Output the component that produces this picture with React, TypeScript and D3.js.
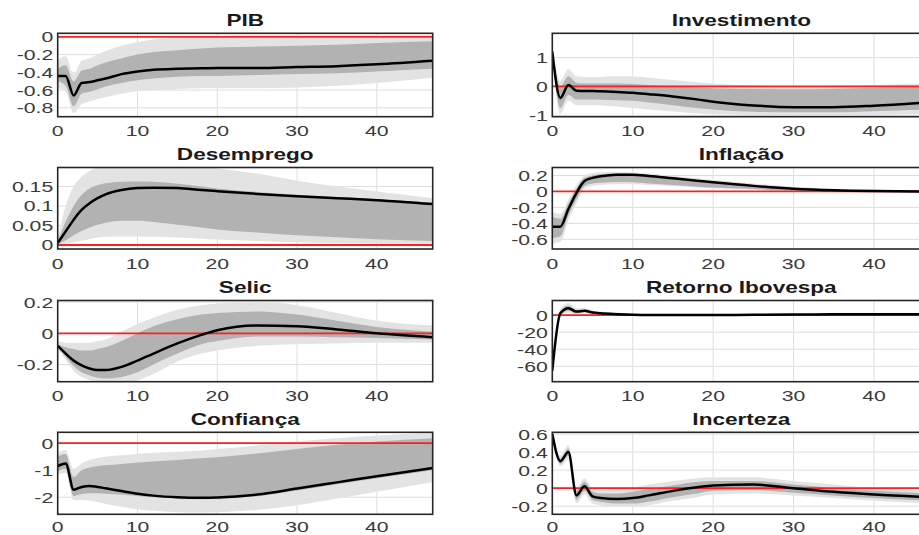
import React from "react";
import * as d3 from "d3";

const HORIZON = [0, 1, 2, 3, 4, 5, 6, 8, 10, 12, 15, 18, 20, 25, 30, 35, 40, 47];
const X_TICKS = [0, 10, 20, 30, 40];
const X_DOMAIN = [0, 47];

const TITLES = ["PIB", "Investimento", "Desemprego", "Inflação", "Selic", "Retorno Ibovespa", "Confiança", "Incerteza"];

// PIB
const pibMed = [-0.44, -0.44, -0.66, -0.52, -0.51, -0.49, -0.47, -0.42, -0.39, -0.37, -0.36, -0.355, -0.35, -0.35, -0.34, -0.33, -0.31, -0.27];
const pibHi68 = [-0.36, -0.32, -0.5, -0.38, -0.36, -0.32, -0.29, -0.24, -0.2, -0.17, -0.15, -0.13, -0.12, -0.11, -0.1, -0.09, -0.07, -0.05];
const pibLo68 = [-0.5, -0.55, -0.78, -0.64, -0.62, -0.59, -0.56, -0.52, -0.49, -0.47, -0.45, -0.44, -0.44, -0.43, -0.42, -0.41, -0.39, -0.36];
const pibHi90 = [-0.26, -0.22, -0.42, -0.27, -0.24, -0.2, -0.16, -0.1, -0.06, -0.03, -0.01, 0.0, 0.01, 0.02, 0.02, 0.02, 0.02, 0.02];
const pibLo90 = [-0.58, -0.62, -0.86, -0.76, -0.73, -0.7, -0.68, -0.64, -0.61, -0.6, -0.59, -0.58, -0.58, -0.58, -0.57, -0.55, -0.52, -0.46];

// Investimento
const invMed = [1.2, -0.4, 0.05, -0.15, -0.16, -0.16, -0.17, -0.19, -0.22, -0.27, -0.35, -0.45, -0.53, -0.66, -0.72, -0.72, -0.67, -0.55];
const invHi68 = [1.25, 0.0, 0.35, 0.12, 0.1, 0.1, 0.1, 0.1, 0.08, 0.05, 0.0, -0.04, -0.06, -0.09, -0.1, -0.08, -0.05, 0.0];
const invLo68 = [1.15, -0.75, -0.3, -0.45, -0.45, -0.45, -0.46, -0.48, -0.5, -0.56, -0.65, -0.75, -0.8, -0.88, -0.9, -0.9, -0.86, -0.8];
const invHi90 = [1.3, 0.2, 0.6, 0.35, 0.33, 0.33, 0.33, 0.35, 0.35, 0.3, 0.22, 0.14, 0.1, 0.03, 0.0, 0.02, 0.05, 0.1];
const invLo90 = [1.1, -0.95, -0.5, -0.65, -0.65, -0.65, -0.66, -0.7, -0.75, -0.8, -0.87, -0.93, -0.96, -1.0, -1.02, -1.02, -1.0, -0.95];

// Desemprego
const desMed = [0.005, 0.035, 0.065, 0.09, 0.107, 0.12, 0.13, 0.141, 0.146, 0.147, 0.146, 0.141, 0.138, 0.131, 0.125, 0.12, 0.115, 0.105];
const desHi68 = [0.01, 0.06, 0.1, 0.128, 0.145, 0.153, 0.158, 0.162, 0.163, 0.162, 0.157, 0.15, 0.145, 0.136, 0.129, 0.123, 0.118, 0.108];
const desLo68 = [0.002, 0.012, 0.025, 0.036, 0.045, 0.052, 0.057, 0.062, 0.062, 0.059, 0.052, 0.045, 0.04, 0.032, 0.025, 0.02, 0.015, 0.01];
const desHi90 = [0.015, 0.1, 0.15, 0.175, 0.19, 0.2, 0.205, 0.21, 0.21, 0.21, 0.205, 0.2, 0.196, 0.183, 0.165, 0.15, 0.137, 0.12];
const desLo90 = [-0.001, 0.003, 0.007, 0.011, 0.015, 0.019, 0.021, 0.022, 0.022, 0.021, 0.019, 0.016, 0.014, 0.01, 0.007, 0.005, 0.004, 0.003];

// Inflação
const infMed = [-0.44, -0.44, -0.22, -0.02, 0.13, 0.17, 0.19, 0.21, 0.21, 0.195, 0.165, 0.135, 0.115, 0.07, 0.035, 0.015, 0.005, 0.0];
const infHi68 = [-0.32, -0.34, -0.15, 0.04, 0.17, 0.2, 0.215, 0.225, 0.22, 0.205, 0.175, 0.145, 0.125, 0.08, 0.045, 0.022, 0.01, 0.005];
const infLo68 = [-0.58, -0.56, -0.3, -0.1, 0.07, 0.1, 0.11, 0.12, 0.115, 0.1, 0.08, 0.06, 0.05, 0.03, 0.01, 0.0, -0.005, -0.008];
const infHi90 = [-0.25, -0.28, -0.1, 0.08, 0.2, 0.23, 0.24, 0.245, 0.24, 0.225, 0.195, 0.165, 0.145, 0.1, 0.06, 0.035, 0.02, 0.012];
const infLo90 = [-0.65, -0.63, -0.36, -0.15, 0.03, 0.07, 0.08, 0.09, 0.09, 0.08, 0.065, 0.05, 0.04, 0.02, 0.0, -0.008, -0.012, -0.015];

// Selic
const selMed = [-0.08, -0.13, -0.175, -0.205, -0.225, -0.235, -0.235, -0.215, -0.175, -0.13, -0.065, -0.01, 0.02, 0.05, 0.045, 0.025, 0.0, -0.025];
const selHi68 = [-0.07, -0.09, -0.1, -0.11, -0.11, -0.1, -0.09, -0.05, 0.0, 0.045, 0.09, 0.12, 0.13, 0.14, 0.12, 0.08, 0.04, 0.01];
const selLo68 = [-0.09, -0.15, -0.21, -0.25, -0.27, -0.285, -0.29, -0.28, -0.25, -0.2, -0.13, -0.07, -0.05, -0.02, -0.02, -0.025, -0.03, -0.04];
const selHi90 = [-0.05, -0.06, -0.06, -0.06, -0.06, -0.05, -0.04, 0.01, 0.06, 0.1, 0.15, 0.18, 0.19, 0.2, 0.18, 0.13, 0.08, 0.05];
const selLo90 = [-0.1, -0.17, -0.24, -0.28, -0.3, -0.31, -0.32, -0.32, -0.3, -0.26, -0.18, -0.13, -0.11, -0.08, -0.07, -0.065, -0.06, -0.06];

// Retorno Ibovespa
const retMed = [-65, 2, 8, 4, 5, 3, 2, 1, 0.3, 0, 0, 0, 0, 0.3, 0.5, 0.8, 1, 1];
const retHi68 = [-60, 5, 11, 6, 6.5, 4, 3, 2, 1, 0.5, 0.3, 0.4, 0.5, 0.8, 1, 1.3, 1.5, 1.6];
const retLo68 = [-70, -1, 5, 2, 3.5, 2, 1, 0, -0.5, -0.6, -0.5, -0.4, -0.4, -0.2, 0, 0.2, 0.4, 0.4];
const retHi90 = [-56, 7, 14, 8, 8, 5.5, 4, 3, 1.5, 1, 0.8, 0.8, 0.9, 1.2, 1.4, 1.7, 1.9, 2];
const retLo90 = [-74, -3, 3, 0.5, 2, 1, 0, -1, -1, -1, -0.9, -0.8, -0.8, -0.6, -0.4, -0.2, 0, 0];

// Confiança
const conMed = [-0.85, -0.75, -1.72, -1.62, -1.58, -1.62, -1.67, -1.77, -1.87, -1.94, -2.0, -2.02, -2.01, -1.9, -1.68, -1.45, -1.22, -0.92];
const conHi68 = [-0.5, -0.4, -1.25, -1.0, -0.9, -0.85, -0.82, -0.77, -0.72, -0.68, -0.62, -0.56, -0.52, -0.38, -0.22, -0.06, 0.06, 0.18];
const conLo68 = [-1.05, -0.95, -1.95, -1.88, -1.85, -1.85, -1.87, -1.9, -1.95, -2.0, -2.05, -2.07, -2.06, -1.96, -1.75, -1.52, -1.3, -1.0];
const conHi90 = [-0.35, -0.25, -0.95, -0.75, -0.62, -0.55, -0.5, -0.45, -0.4, -0.36, -0.32, -0.27, -0.22, -0.08, 0.06, 0.18, 0.28, 0.38];
const conLo90 = [-1.15, -1.1, -2.1, -2.1, -2.12, -2.18, -2.25, -2.35, -2.45, -2.5, -2.55, -2.56, -2.55, -2.47, -2.3, -2.05, -1.8, -1.45];

// Incerteza
const incMed = [0.6, 0.3, 0.4, -0.08, 0.02, -0.09, -0.11, -0.12, -0.11, -0.08, -0.03, 0.01, 0.03, 0.04, 0.0, -0.04, -0.07, -0.1];
const incHi68 = [0.6, 0.33, 0.44, -0.03, 0.07, -0.04, -0.06, -0.06, -0.04, -0.01, 0.03, 0.07, 0.08, 0.08, 0.04, 0.0, -0.03, -0.06];
const incLo68 = [0.6, 0.27, 0.36, -0.13, -0.03, -0.13, -0.15, -0.17, -0.17, -0.15, -0.1, -0.06, -0.03, -0.02, -0.05, -0.08, -0.11, -0.14];
const incHi90 = [0.6, 0.36, 0.48, 0.0, 0.11, 0.0, -0.02, -0.01, 0.01, 0.04, 0.08, 0.11, 0.12, 0.12, 0.08, 0.04, 0.0, -0.03];
const incLo90 = [0.6, 0.24, 0.32, -0.17, -0.07, -0.17, -0.19, -0.21, -0.21, -0.19, -0.14, -0.1, -0.07, -0.06, -0.08, -0.11, -0.14, -0.17];

const Y_DOMAINS = [
  [-0.9, 0.04],
  [-1.05, 1.84],
  [-0.0103, 0.1987],
  [-0.72, 0.3],
  [-0.31, 0.21],
  [-78, 17],
  [-2.63, 0.4],
  [-0.29, 0.62],
];
const Y_TICKS = [
  [0, -0.2, -0.4, -0.6, -0.8],
  [1, 0, -1],
  [0, 0.05, 0.1, 0.15],
  [0.2, 0, -0.2, -0.4, -0.6],
  [0.2, 0, -0.2],
  [0, -20, -40, -60],
  [0, -1, -2],
  [0.6, 0.4, 0.2, 0, -0.2],
];

const SERIES = [
  [pibMed, pibHi68, pibLo68, pibHi90, pibLo90],
  [invMed, invHi68, invLo68, invHi90, invLo90],
  [desMed, desHi68, desLo68, desHi90, desLo90],
  [infMed, infHi68, infLo68, infHi90, infLo90],
  [selMed, selHi68, selLo68, selHi90, selLo90],
  [retMed, retHi68, retLo68, retHi90, retLo90],
  [conMed, conHi68, conLo68, conHi90, conLo90],
  [incMed, incHi68, incLo68, incHi90, incLo90],
];

// Layout
const COL_X = [57.7, 552.3];
const COL_W = [375, 378];
const ROW_TOP = [33.3, 167.5, 300.5, 432.3];
const ROW_BOT = [116.7, 249, 381.7, 514.3];
const X_LABEL_OFF = [19.5, 19.5, 19.5, 17.5];
const SX = 1.37;
const FONT = "'Liberation Sans', Arial, Helvetica, sans-serif";

function fmt(v: number) {
  return String(+v.toFixed(4));
}

function Panel({ idx }: { idx: number }) {
  const col = idx % 2;
  const row = Math.floor(idx / 2);
  const x0 = COL_X[col];
  const w = COL_W[col];
  const top = ROW_TOP[row];
  const bot = ROW_BOT[row];
  const x = d3.scaleLinear().domain(X_DOMAIN).range([x0, x0 + w]);
  const y = d3.scaleLinear().domain(Y_DOMAINS[idx]).range([bot, top]);
  const [med, hi68, lo68, hi90, lo90] = SERIES[idx];
  const curve = d3.curveMonotoneX;
  const band = (lo: number[], hi: number[]) =>
    d3
      .area<number>()
      .x((_, i) => x(HORIZON[i]))
      .y0((_, i) => y(lo[i]))
      .y1((_, i) => y(hi[i]))
      .curve(curve)(HORIZON) || "";
  const line =
    d3
      .line<number>()
      .x((_, i) => x(HORIZON[i]))
      .y((v) => y(v))
      .curve(curve)(med) || "";
  const clipId = `clip-${idx}`;
  const cx = x0 + w / 2;
  return (
    <g>
      <defs>
        <clipPath id={clipId}>
          <rect x={x0} y={top} width={w} height={bot - top} />
        </clipPath>
      </defs>
      <rect x={x0} y={top} width={w} height={bot - top} fill="#ffffff" />
      {/* grid */}
      {X_TICKS.filter((t) => t > 0).map((t) => (
        <line key={"gx" + t} x1={x(t)} x2={x(t)} y1={top} y2={bot} stroke="#dedede" strokeWidth={1} />
      ))}
      {Y_TICKS[idx].map((t) => (
        <line key={"gy" + t} x1={x0} x2={x0 + w} y1={y(t)} y2={y(t)} stroke="#dedede" strokeWidth={1} />
      ))}
      <g clipPath={`url(#${clipId})`}>
        <path d={band(lo90, hi90)} fill="#e3e3e3" />
        <path d={band(lo68, hi68)} fill="#b2b2b2" />
        <line x1={x0} x2={x0 + w} y1={y(0)} y2={y(0)} stroke="#ff1f1f" strokeWidth={1.8} />
        <path d={line} fill="none" stroke="#000000" strokeWidth={2.5} strokeLinejoin="round" />
      </g>
      <rect x={x0} y={top} width={w} height={bot - top} fill="none" stroke="#262626" strokeWidth={1.6} />
      {/* y tick labels */}
      {Y_TICKS[idx].map((t) => (
        <text
          key={"ty" + t}
          transform={`translate(${x0 - 4.5},${y(t) + 5.5}) scale(${SX},1)`}
          textAnchor="end"
          fontFamily={FONT}
          fontSize={15.5}
          fill="#3a3a3a"
        >
          {fmt(t)}
        </text>
      ))}
      {/* x tick labels */}
      {X_TICKS.map((t) => (
        <text
          key={"tx" + t}
          transform={`translate(${x(t)},${bot + X_LABEL_OFF[row]}) scale(${SX},1)`}
          textAnchor="middle"
          fontFamily={FONT}
          fontSize={15.5}
          fill="#3a3a3a"
        >
          {fmt(t)}
        </text>
      ))}
      <text
        transform={`translate(${cx},${top - 7.5}) scale(${SX},1)`}
        textAnchor="middle"
        fontFamily={FONT}
        fontSize={16.5}
        fontWeight="bold"
        fill="#1a1a1a"
      >
        {TITLES[idx]}
      </text>
    </g>
  );
}

export default function App() {
  return (
    <svg
      width={919}
      height={535}
      viewBox="0 0 919 535"
      style={{ position: "absolute", left: 0, top: 0, background: "#ffffff", overflow: "hidden" }}
    >
      <rect x={0} y={0} width={919} height={535} fill="#ffffff" />
      {TITLES.map((_, i) => (
        <Panel key={i} idx={i} />
      ))}
    </svg>
  );
}
